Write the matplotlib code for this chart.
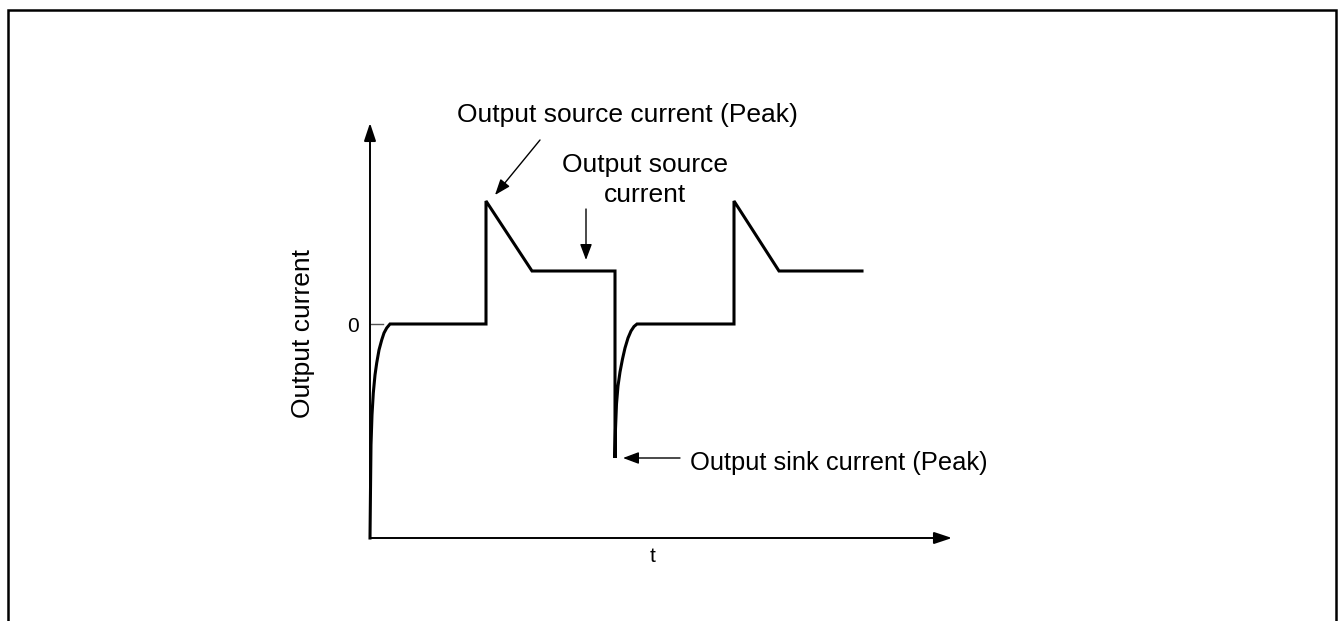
import matplotlib
matplotlib.use('Agg')
import matplotlib.pyplot as plt
from matplotlib.patches import Rectangle

plt.rcParams['font.family'] = ['Liberation Sans', 'DejaVu Sans']

# waveform data (time, current)
rise_t = [0, 0.5, 1, 2, 3.3, 5, 6.7, 9, 11.7, 14, 16.7, 20]
rise_i = [-214, -166, -121, -91, -69, -51, -39, -26, -16, -9, -4, 0]

pulse1_t = [116, 116, 162, 245]
pulse1_i = [0, 123, 53, 53]

sink_t = [245, 245, 245.5, 246.5, 248, 250, 252.5, 255, 258, 261, 264, 267]
sink_i = [53, -134, -105, -80, -62, -48, -35, -24, -14, -7, -2.5, 0]

pulse2_t = [364, 364, 409, 492]
pulse2_i = [0, 123, 53, 53]

t_vals = rise_t + pulse1_t + sink_t + pulse2_t
i_vals = rise_i + pulse1_i + sink_i + pulse2_i

# axis extents
t_max = 582
i_min = -214
i_max = 201

fig = plt.figure(figsize=(13.38, 6.21), dpi=100)
ax = fig.add_axes([0, 0, 1, 1])
ax.set_xlim(-370, 968)
ax.set_ylim(-297, 324)
ax.axis('off')

# outer frame (bottom edge runs off the picture)
fig.patches.append(Rectangle((8 / 1338, -0.1), 1328 / 1338, 1.1 - 10 / 621,
                             transform=fig.transFigure, fill=False,
                             lw=1.8, ec='black', clip_on=False))

# axes with arrows
axis_arrow = dict(arrowstyle='-|>,head_length=0.9,head_width=0.3', color='black',
                  lw=1.4, shrinkA=0, shrinkB=0, mutation_scale=12)
ax.annotate('', xy=(0, i_max), xytext=(0, i_min), arrowprops=axis_arrow)
ax.annotate('', xy=(t_max, i_min), xytext=(0, i_min), arrowprops=axis_arrow)

# zero tick
ax.plot([0, 13], [0, 0], color='#555555', lw=1)
ax.text(-17, -2, '0', fontsize=15, ha='center', va='center')

# waveform
ax.plot(t_vals, i_vals, color='black', lw=2.2, solid_joinstyle='miter')

# labels
ax.text(-67, -9, 'Output current', fontsize=19, rotation=90,
        ha='center', va='center')
ax.text(283, -233, 't', fontsize=15, ha='center', va='center')

ann_arrow = dict(arrowstyle='-|>,head_length=0.8,head_width=0.3', color='black',
                 lw=1.0, shrinkA=0, shrinkB=0, mutation_scale=12)

ax.text(257, 202, 'Output source current (Peak)', fontsize=19,
        ha='center', va='baseline')
ax.annotate('', xy=(125, 129), xytext=(170, 184), arrowprops=ann_arrow)

ax.text(275, 152, 'Output source', fontsize=19, ha='center', va='baseline')
ax.text(275, 122, 'current', fontsize=19, ha='center', va='baseline')
ax.annotate('', xy=(216, 64), xytext=(216, 115), arrowprops=ann_arrow)

ax.text(320, -146, 'Output sink current (Peak)', fontsize=18.4,
        ha='left', va='baseline')
ax.annotate('', xy=(253, -134), xytext=(310, -134), arrowprops=ann_arrow)

fig.savefig('out.png', dpi=100)
